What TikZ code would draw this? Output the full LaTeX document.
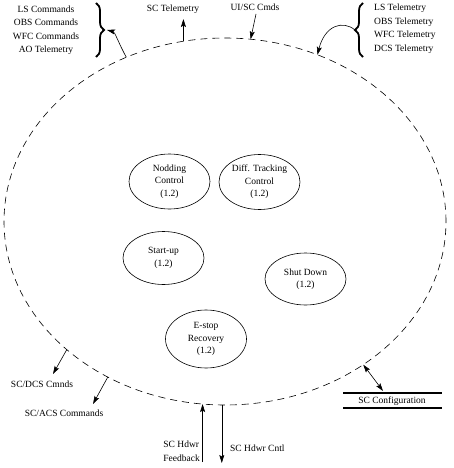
\documentclass[tikz,border=0pt]{standalone}
\usepackage{fontspec}
\setmainfont{Liberation Serif}
\usetikzlibrary{shapes.geometric,arrows.meta,decorations.pathreplacing}
\begin{document}
\begin{tikzpicture}[x=1pt,y=-1pt,
  txt/.style={inner sep=0pt, font=\fontsize{9.5}{13.5}\selectfont},
  proc/.style={ellipse, draw, line width=0.6pt, minimum width=81pt, minimum height=55pt, inner sep=0pt, align=center, font=\fontsize{9.5}{12.5}\selectfont},
  flow/.style={line width=0.6pt, -{Stealth[length=8pt,width=5pt,inset=1.5pt]}},
  dflow/.style={line width=0.6pt, {Stealth[length=8pt,width=5pt,inset=1.5pt]}-{Stealth[length=8pt,width=5pt,inset=1.5pt]}},
  bracestyle/.style={decorate, decoration={brace, amplitude=8pt}, line width=1.8pt}]
\useasboundingbox (0,0) rectangle (453,468);
% system boundary
\node[draw, ellipse, dash pattern=on 7pt off 5pt, line width=0.6pt, minimum width=442pt, minimum height=367pt, inner sep=0pt, outer sep=0pt] (sys) at (225,221.5) {};
% processes
\node[proc] (nod) at (169.5,181.5) {Nodding\\Control\\(1.2)};
\node[proc] (diff) at (259.5,182) {Diff. Tracking\\Control\\(1.2)};
\node[proc, minimum height=53pt] (start) at (163.5,258) {Start-up\\(1.2)};
\node[proc, minimum height=52pt] (shut) at (305.5,279) {Shut Down\\(1.2)};
\node[proc, minimum height=58pt] (estop) at (206,339) {E-stop\\Recovery\\(1.2)};
% top-left
\node[txt, align=center] (lcmd) at (46,30) {LS Commands\\OBS Commands\\WFC Commands\\AO Telemetry};
\draw[bracestyle] (96,3) -- (96,57);
\coordinate (lbtip) at (107,30);
\draw[flow] (sys.121.8) .. controls (118,42) and (115,32) .. (lbtip);
% SC Telemetry
\node[txt] (sctel) at (173,9) {SC Telemetry};
\coordinate (sctelTip) at (183,19);
\draw[flow] (sys.103) -- (sys.103 |- sctelTip);
% UI/SC Cmds
\node[txt] (uisc) at (255,7) {UI/SC Cmds};
\coordinate (uiscStart) at (256,14);
\draw[flow] (uiscStart) -- (sys.82.5);
% top-right
\node[txt, align=left, anchor=west] (rtel) at (374,28.5) {LS Telemetry\\OBS Telemetry\\WFC Telemetry\\DCS Telemetry};
\draw[bracestyle] (363,57) -- (363,3);
\coordinate (rbtip) at (355,30);
\draw[flow] (rbtip) .. controls (343,20) and (325,25) .. (sys.61.5);
% bottom-left
\node[txt] (dcs) at (42,384) {SC/DCS Cmnds};
\coordinate (dcsTip) at (53,374);
\draw[flow] (sys.219.9) -- (dcsTip);
\node[txt] (acs) at (64,413) {SC/ACS Commands};
\coordinate (acsTip) at (93,404);
\draw[flow] (sys.233.2) -- (acsTip);
% bottom
\coordinate (fbBase) at (205,462);
\node[txt, align=left, anchor=east] (fb) at (200,451) {SC Hdwr\\Feedback};
\draw[flow] (sys.263.8 |- fbBase) -- (sys.263.8);
\coordinate (cntlTip) at (223,463);
\node[txt, anchor=west] (cntl) at (230,448) {SC Hdwr Cntl};
\draw[flow] (sys.269.4) -- (sys.269.4 |- cntlTip);
% SC Configuration store
\node[txt] (cfg) at (392,401) {SC Configuration};
\draw[line width=2pt] (343,393) -- (442,393);
\draw[line width=2pt] (343,408) -- (442,408);
\coordinate (cfgTip) at (383,391);
\draw[dflow] (sys.314) -- (cfgTip);
\end{tikzpicture}
\end{document}
